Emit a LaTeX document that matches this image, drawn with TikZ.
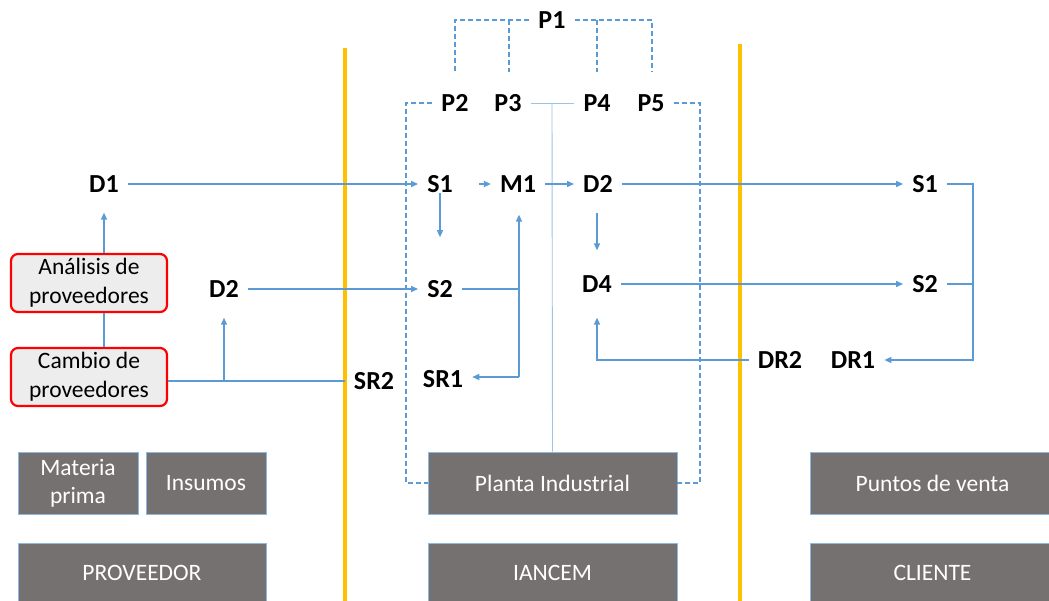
\documentclass[tikz,border=0pt]{standalone}
\usepackage{fontspec}
\setmainfont{Carlito}
\usetikzlibrary{arrows.meta}
\definecolor{lblue}{HTML}{5B9BD5}
\definecolor{pale}{HTML}{9DC3E6}
\definecolor{boxgray}{HTML}{767171}
\definecolor{gold}{HTML}{FFC000}
\definecolor{redb}{HTML}{FF0000}
\definecolor{redfill}{HTML}{EDEDED}
\tikzset{
  lbl/.style={font=\fontsize{26}{30}\selectfont\bfseries, inner xsep=9pt, inner ysep=8pt},
  conn/.style={draw=lblue, line width=1.4pt},
  arr/.style={conn, -{Triangle[length=7pt,width=6pt]}},
  dsh/.style={draw=lblue, line width=1.5pt, dash pattern=on 5pt off 3pt},
  thin/.style={draw=pale, line width=0.9pt},
  gbox/.style={draw=lblue!70, line width=0.6pt, fill=boxgray, text=white, font=\fontsize{23.5}{28}\selectfont, align=center, inner sep=0pt},
  rbox/.style={draw=redb, line width=2.2pt, fill=redfill, rounded corners=7pt, font=\fontsize{23.5}{29}\selectfont, align=center, inner sep=0pt, minimum width=156pt, minimum height=58pt},
  sep/.style={draw=gold, line width=3.5pt}
}
\begin{document}
\begin{tikzpicture}[x=1pt,y=-1pt]
\useasboundingbox (0,0) rectangle (1049,601);
% separators
\coordinate (y1t) at (345,48); \coordinate (y1b) at (345,601);
\coordinate (y2t) at (740,44); \coordinate (y2b) at (740,601);
\draw[sep] (y1t) -- (y1b);
\draw[sep] (y2t) -- (y2b);
% gray boxes
\node[gbox, minimum width=120pt, minimum height=62pt] (mp) at (78,483) {Materia\\prima};
\node[gbox, minimum width=120pt, minimum height=62pt] (ins) at (206,483) {Insumos};
\node[gbox, minimum width=248pt, minimum height=60pt] (prov) at (142,573) {PROVEEDOR};
\node[gbox, minimum width=249pt, minimum height=62pt] (pi) at (552.5,483) {Planta Industrial};
\node[gbox, minimum width=249pt, minimum height=60pt] (ian) at (552.5,573) {IANCEM};
\node[gbox, minimum width=245pt, minimum height=62pt] (pv) at (932.5,483) {Puntos de venta};
\node[gbox, minimum width=245pt, minimum height=60pt] (cli) at (932.5,573) {CLIENTE};
% red boxes
\node[rbox] (an) at (89,283) {Análisis de\\proveedores};
\node[rbox] (cb) at (89,377) {Cambio de\\proveedores};
% labels
\node[lbl] (P1) at (552,20) {P1};
\node[lbl] (P2) at (455,103) {P2};
\node[lbl] (P3) at (508,103) {P3};
\node[lbl] (P4) at (597,103) {P4};
\node[lbl] (P5) at (651,103) {P5};
\node[lbl] (D1) at (104,184) {D1};
\node[lbl] (D2l) at (224,289) {D2};
\node[lbl] (SR2) at (374,381) {SR2};
\node[lbl] (S1) at (440,184) {S1};
\node[lbl] (M1) at (518,184) {M1};
\node[lbl] (D2) at (598,184) {D2};
\node[lbl] (S2) at (440,289) {S2};
\node[lbl] (SR1) at (443,379) {SR1};
\node[lbl] (D4) at (597,284) {D4};
\node[lbl] (DR2) at (780,360) {DR2};
\node[lbl] (DR1) at (853,360) {DR1};
\node[lbl] (S1r) at (925,184) {S1};
\node[lbl] (S2r) at (925,284) {S2};
% junction coordinates
\coordinate (j1) at (509,20); \coordinate (j1b) at (509,72);
\coordinate (j2) at (597,20); \coordinate (j2b) at (597,72);
\coordinate (pl) at (455,20); \coordinate (plb) at (455,72);
\coordinate (pr) at (652,20); \coordinate (prb) at (652,72);
\coordinate (dl) at (406,103); \coordinate (dlb) at (406,483);
\coordinate (dr) at (700,103); \coordinate (drb) at (700,483);
\coordinate (tj) at (552,103);
\coordinate (mj) at (519,289); \coordinate (mb) at (519,377);
\coordinate (cj) at (224,381); \coordinate (cy) at (345,381);
\coordinate (rj) at (973,184); \coordinate (rj2) at (973,284);
% dashed brackets
\draw[dsh] (P1.west) -- (pl) -- (plb);
\draw[dsh] (j1) -- (j1b);
\draw[dsh] (P1.east) -- (pr) -- (prb);
\draw[dsh] (j2) -- (j2b);
\draw[dsh] (P2.west) -- (dl) -- (dlb) -- (pi.west);
\draw[dsh] (P5.east) -- (dr) -- (drb) -- (pi.east);
\draw[thin] (P3.east) -- (P4.west);
\draw[thin] (tj) -- (pi.north);
% connectors
\draw[arr] (D1.east) -- (S1.west);
\draw[arr, shorten <=17pt] (S1.east) -- (M1.west);
\draw[arr] (M1.east) -- (D2.west);
\draw[arr] (D2.east) -- (S1r.west);
\draw[arr] (S1r.east) -- (rj) |- (DR1.east);
\draw[conn] (S2r.east) -- (rj2);
\draw[arr, shorten <=-8pt, shorten >=35pt] (S1.south) -- (S2.north);
\draw[arr] (D2l.east) -- (S2.west);
\draw[conn] (S2.east) -- (mj);
\draw[arr, shorten >=14pt] (mb) -- (M1.south -| mb);
\draw[arr] (mb) -- (SR1.east |- mb);
\draw[conn] (cb.east |- cy) -- (cy);
\draw[arr, shorten >=12pt] (cj) -- (D2l.south);
\draw[arr, shorten >=12pt] (D1.south |- an.north) -- (D1.south);
\draw[conn] (D1.south |- an.south) -- (D1.south |- cb.north);
\draw[arr, shorten <=12pt, shorten >=17pt] (D2.south -| D4) -- (D4.north);
\draw[arr] (D4.east) -- (S2r.west);
\draw[arr, shorten >=17pt] (DR2.west) -| (D4.south);
\end{tikzpicture}
\end{document}
